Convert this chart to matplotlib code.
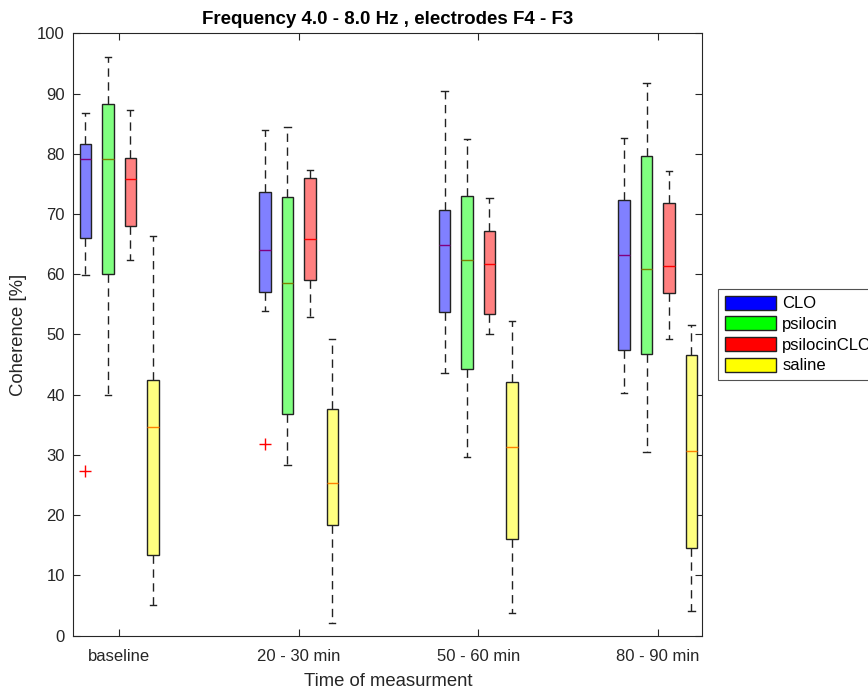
import matplotlib
matplotlib.use("Agg")
import matplotlib.pyplot as plt
from matplotlib.patches import Patch

plt.rcParams['font.family'] = ['Liberation Sans', 'DejaVu Sans']

# ---- data ----
time_labels = ["baseline", "20 - 30 min", "50 - 60 min", "80 - 90 min"]
groups = ["CLO", "psilocin", "psilocinCLO", "saline"]

clo_whishi = [86.8, 83.9, 90.5, 82.6]
clo_q3 = [81.7, 73.6, 70.6, 72.3]
clo_med = [79.1, 64.0, 64.9, 63.2]
clo_q1 = [66.0, 57.1, 53.8, 47.4]
clo_whislo = [59.9, 53.9, 43.6, 40.2]
clo_out = [[27.3], [31.8], [], []]

psi_whishi = [96.1, 84.5, 82.5, 91.8]
psi_q3 = [88.2, 72.8, 73.0, 79.6]
psi_med = [79.1, 58.6, 62.4, 60.8]
psi_q1 = [60.1, 36.7, 44.3, 46.7]
psi_whislo = [39.9, 28.3, 29.6, 30.4]
psi_out = [[], [], [], []]

pc_whishi = [87.3, 77.3, 72.6, 77.2]
pc_q3 = [79.3, 76.0, 67.2, 71.9]
pc_med = [75.8, 65.8, 61.7, 61.4]
pc_q1 = [68.0, 59.0, 53.4, 56.9]
pc_whislo = [62.3, 52.9, 50.1, 49.2]
pc_out = [[], [], [], []]

sal_whishi = [66.4, 49.2, 52.3, 51.5]
sal_q3 = [42.5, 37.6, 42.1, 46.6]
sal_med = [34.7, 25.4, 31.3, 30.6]
sal_q1 = [13.4, 18.4, 16.1, 14.6]
sal_whislo = [5.1, 2.1, 3.7, 4.0]
sal_out = [[], [], [], []]

series = [
    (clo_whislo, clo_q1, clo_med, clo_q3, clo_whishi, clo_out),
    (psi_whislo, psi_q1, psi_med, psi_q3, psi_whishi, psi_out),
    (pc_whislo, pc_q1, pc_med, pc_q3, pc_whishi, pc_out),
    (sal_whislo, sal_q1, sal_med, sal_q3, sal_whishi, sal_out),
]

legend_colors = ["#0000ff", "#00ff00", "#ff0000", "#ffff00"]
box_colors = ["#8080ff", "#80ff80", "#ff8080", "#ffff80"]
median_colors = ["#800080", "#808000", "#ff0000", "#ff8000"]
offsets = [-0.1875, -0.0625, 0.0625, 0.1875]

txt = "#262626"

fig = plt.figure(figsize=(8.68, 6.89), dpi=100)
ax = fig.add_axes([73.3 / 868, 53.5 / 689, (702.3 - 73.3) / 868, (635.5 - 33.3) / 689])

for gi, (wlo, q1, med, q3, whi, outs) in enumerate(series):
    stats = []
    for t in range(len(time_labels)):
        stats.append(dict(whislo=wlo[t], q1=q1[t], med=med[t], q3=q3[t],
                          whishi=whi[t], fliers=outs[t]))
    positions = [t + 1 + offsets[gi] for t in range(len(time_labels))]
    ax.bxp(stats, positions=positions, widths=0.064, capwidths=0.035,
           patch_artist=True, manage_ticks=False,
           boxprops=dict(facecolor=box_colors[gi], edgecolor="#222222", linewidth=1.0),
           medianprops=dict(color=median_colors[gi], linewidth=1.0),
           whiskerprops=dict(color="#222222", linestyle=(0, (6, 4)), linewidth=1.0),
           capprops=dict(color="#222222", linewidth=1.0),
           flierprops=dict(marker="+", markeredgecolor="#ff0000", markersize=9,
                           linestyle="none", markeredgewidth=1.0))

ax.set_xlim(0.745, 4.248)
ax.set_ylim(0, 100)
ax.set_xticks(range(1, len(time_labels) + 1))
ax.set_xticklabels(time_labels)
ax.set_yticks(range(0, 101, 10))
ax.tick_params(direction="in", top=True, right=True, length=5, width=0.8,
               colors=txt, labelsize=12, pad=6)
ax.tick_params(axis="x", pad=10)
for s in ax.spines.values():
    s.set_color(txt)
    s.set_linewidth(0.8)

ax.set_title("Frequency 4.0 - 8.0 Hz , electrodes F4 - F3", fontsize=13.5,
             fontweight="bold", color="black", pad=7)
ax.set_ylabel("Coherence [%]", fontsize=13.3, color=txt, labelpad=7)
ax.set_xlabel("Time of measurment", fontsize=13.3, color=txt, labelpad=6)

handles = [Patch(facecolor=c, edgecolor="#222222", linewidth=1.0) for c in legend_colors]
leg = fig.legend(handles, groups, loc="upper left",
                 bbox_to_anchor=(718 / 868, 1 - 289 / 689),
                 bbox_transform=fig.transFigure, borderaxespad=0,
                 fancybox=False, frameon=True, fontsize=12,
                 handlelength=3.05, handleheight=0.9, handletextpad=0.4,
                 labelspacing=0.3, borderpad=0.4)
leg.get_frame().set_edgecolor(txt)
leg.get_frame().set_linewidth(0.8)
for t in leg.get_texts():
    t.set_color("black")

fig.savefig("out.png", dpi=100)
